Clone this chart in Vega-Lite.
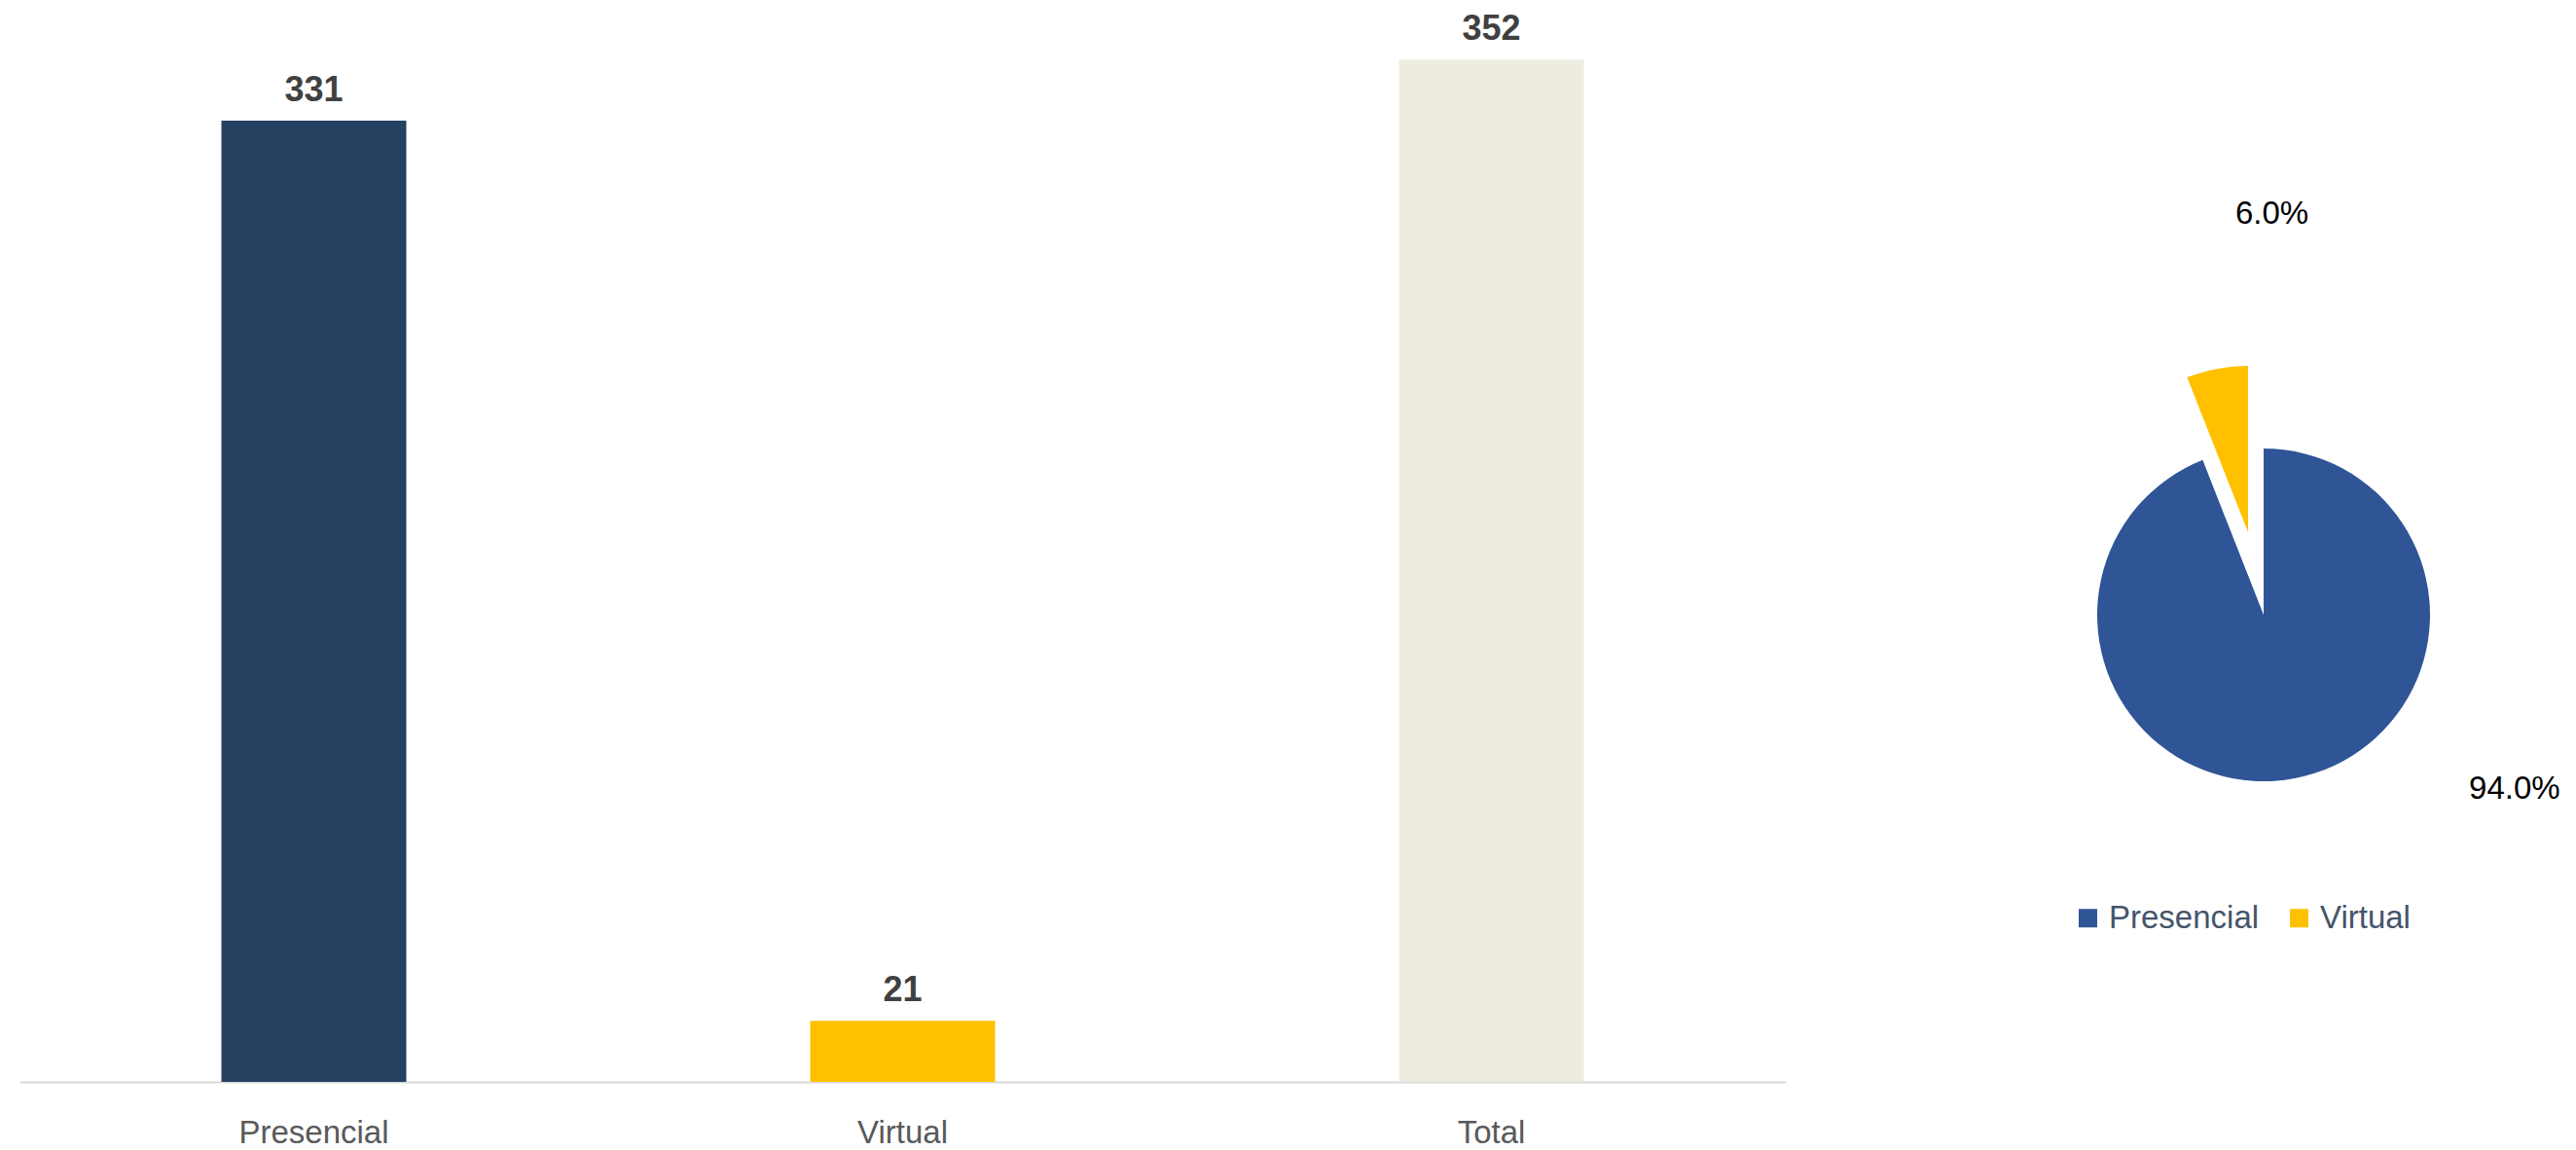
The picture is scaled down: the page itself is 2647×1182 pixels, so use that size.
{
  "$schema": "https://vega.github.io/schema/vega-lite/v6.json",
  "padding": {"left": 20, "top": 0, "right": 0, "bottom": 0},
  "background": "white",
  "config": {"view": {"stroke": null}, "font": "Liberation Sans"},
  "spacing": 191,
  "resolve": {"scale": {"color": "independent"}, "legend": {"color": "independent"}},
  "datasets": {
    "bars": [
      {"category": "Presencial", "value": 331},
      {"category": "Virtual", "value": 21},
      {"category": "Total", "value": 352}
    ],
    "pie": [
      {"category": "Presencial", "value": 331},
      {"category": "Virtual", "value": 21}
    ]
  },
  "hconcat": [
    {
      "width": 1815,
      "height": 1112,
      "data": {"name": "bars"},
      "encoding": {
        "x": {
          "field": "category", "type": "nominal",
          "sort": ["Presencial", "Virtual", "Total"],
          "scale": {"paddingInner": 0.686, "paddingOuter": 0.343},
          "axis": {"title": null, "ticks": false, "grid": false, "domainColor": "#D9D9D9", "domainWidth": 2,
                   "labelFontSize": 33, "labelColor": "#595959", "labelPadding": 36, "labelAngle": 0,
                   "labelFont": "Liberation Sans"}
        },
        "y": {"field": "value", "type": "quantitative", "scale": {"domain": [0, 372.5]}, "axis": null}
      },
      "layer": [
        {
          "mark": {"type": "bar"},
          "encoding": {
            "color": {"field": "category", "type": "nominal",
                      "scale": {"domain": ["Presencial", "Virtual", "Total"], "range": ["#264061", "#FFC000", "#EEECE1"]},
                      "legend": null}
          }
        },
        {
          "mark": {"type": "text", "dy": -20, "baseline": "alphabetic", "fontSize": 36, "fontWeight": "bold", "color": "#404040"},
          "encoding": {"text": {"field": "value", "type": "quantitative"}}
        }
      ]
    },
    {
      "width": 600,
      "height": 1112,
      "data": {"name": "pie"},
      "transform": [
        {"stack": "value", "groupby": [], "as": ["t0", "t1"], "offset": "normalize", "sort": [{"field": "category", "order": "ascending"}]},
        {"calculate": "datum.t1 - datum.t0", "as": "pct"}
      ],
      "layer": [
        {
          "transform": [{"filter": "datum.category === 'Presencial'"}],
          "mark": {"type": "arc", "outerRadius": 171, "yOffset": 76},
          "encoding": {
            "theta": {"field": "t0", "type": "quantitative", "scale": {"domain": [0, 1]}},
            "theta2": {"field": "t1"},
            "color": {"field": "category", "type": "nominal",
                      "scale": {"domain": ["Presencial", "Virtual"], "range": ["#2F5597", "#FFC000"]},
                      "legend": {"orient": "none", "legendX": 103, "legendY": 927, "direction": "horizontal", "title": null,
                                 "symbolType": "square", "symbolSize": 361, "symbolStrokeWidth": 0,
                                 "labelFontSize": 33, "labelColor": "#44546A", "labelFont": "Liberation Sans",
                                 "columnPadding": 24, "labelOffset": 5, "padding": 0}}
          }
        },
        {
          "transform": [{"filter": "datum.category === 'Virtual'"}],
          "mark": {"type": "arc", "outerRadius": 171, "xOffset": -16, "yOffset": -9},
          "encoding": {
            "theta": {"field": "t0", "type": "quantitative", "scale": {"domain": [0, 1]}},
            "theta2": {"field": "t1"},
            "color": {"field": "category", "type": "nominal"}
          }
        },
        {
          "transform": [{"filter": "datum.category === 'Virtual'"}],
          "mark": {"type": "text", "theta": 0.0206, "radius": 412, "yOffset": 76, "fontSize": 33, "color": "#000000", "align": "center", "baseline": "middle"},
          "encoding": {"text": {"field": "pct", "type": "quantitative", "format": ".1%"}}
        },
        {
          "transform": [{"filter": "datum.category === 'Presencial'"}],
          "mark": {"type": "text", "theta": 2.178, "radius": 314, "yOffset": 76, "fontSize": 33, "color": "#000000", "align": "center", "baseline": "middle"},
          "encoding": {"text": {"field": "pct", "type": "quantitative", "format": ".1%"}}
        }
      ]
    }
  ]
}
